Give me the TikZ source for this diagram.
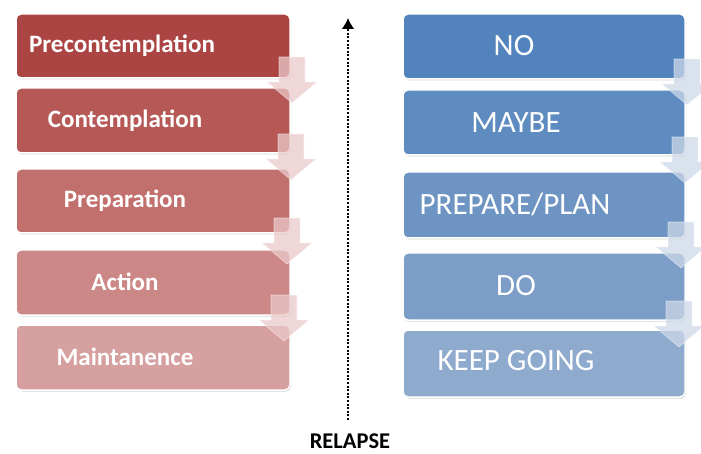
\documentclass[tikz,border=0pt]{standalone}
\usepackage{fontspec}
\setmainfont{Carlito}
\usetikzlibrary{arrows.meta,shadows}
\definecolor{rA}{HTML}{AB4543}
\definecolor{rB}{HTML}{B65956}
\definecolor{rC}{HTML}{C2706E}
\definecolor{rD}{HTML}{CB8886}
\definecolor{rE}{HTML}{D6A0A0}
\definecolor{bA}{HTML}{5283BD}
\definecolor{bB}{HTML}{5E8BC0}
\definecolor{bC}{HTML}{6D94C3}
\definecolor{bD}{HTML}{7B9DC7}
\definecolor{bE}{HTML}{8EAACD}
\definecolor{lpink}{HTML}{EBCACA}
\definecolor{lblue}{HTML}{CDD8E8}
\begin{document}
\begin{tikzpicture}[x=1pt,y=-1pt,
  stagebox/.style={draw=white,line width=1.5pt,rounded corners=5pt,
    drop shadow={shadow xshift=1pt,shadow yshift=-1.5pt,opacity=0.3,fill=black!55},
    minimum width=274pt,inner sep=0pt},
  rbox/.style={stagebox,minimum width=282pt},
  ltext/.style={text=white,font=\fontsize{25}{30}\selectfont\bfseries,inner sep=0pt},
  rtext/.style={text=white,font=\fontsize{31}{36}\selectfont,inner sep=0pt},
  arrowfill/.style={fill=#1,fill opacity=0.75,draw=white,draw opacity=0.5,line width=0.6pt},
  pics/downarr/.style={code={
    \path[arrowfill=#1] (-13,0) -- (13,0) -- (13,25) -- (25,25) -- (0,46)
      -- (-25,25) -- (-13,25) -- cycle;}}]
\useasboundingbox (0,0) rectangle (701,454);
% left column
\node[stagebox,fill=rA,minimum height=64pt] (l1) at (153,46) {};
\node[stagebox,fill=rB,minimum height=65pt] (l2) at (153,120.5) {};
\node[stagebox,fill=rC,minimum height=64pt] (l3) at (153,201) {};
\node[stagebox,fill=rD,minimum height=65pt] (l4) at (153,282.5) {};
\node[stagebox,fill=rE,minimum height=65pt] (l5) at (153,357.5) {};
\node[ltext] (tl1) at (122,46) {Precontemplation};
\node[ltext] (tl2) at (125,121) {Contemplation};
\node[ltext] (tl3) at (125,201) {Preparation};
\node[ltext] (tl4) at (125,282) {Action};
\node[ltext] (tl5) at (125,357) {Maintanence};
\pic at (292,57) {downarr=lpink};
\pic at (291,134) {downarr=lpink};
\pic at (287,218) {downarr=lpink};
\pic at (284,295) {downarr=lpink};
% right column
\node[rbox,fill=bA,minimum height=65pt] (r1) at (544,46.5) {};
\node[rbox,fill=bB,minimum height=65pt] (r2) at (544,122.5) {};
\node[rbox,fill=bC,minimum height=66pt] (r3) at (544,205) {};
\node[rbox,fill=bD,minimum height=67pt] (r4) at (544,286.5) {};
\node[rbox,fill=bE,minimum height=67pt] (r5) at (544,363.5) {};
\node[rtext] (tr1) at (514,46) {NO};
\node[rtext] (tr2) at (516,123) {MAYBE};
\node[rtext] (tr3) at (515,204) {PREPARE/PLAN};
\node[rtext] (tr4) at (516,286) {DO};
\node[rtext] (tr5) at (516,361) {KEEP GOING};
\pic at (687,59) {downarr=lblue};
\pic at (685,137) {downarr=lblue};
\pic at (681,222) {downarr=lblue};
\pic at (679,301) {downarr=lblue};
% relapse arrow
\coordinate (rb) at (348,420);
\coordinate (rt) at (348,18);
\draw[line width=2.6pt,dash pattern=on 2pt off 1.6pt,-{Latex[length=11pt,width=13pt]}] (rb) -- (rt);
\node[font=\fontsize{22.5}{26}\selectfont\bfseries,inner sep=0pt] (rel) at (350,441) {RELAPSE};
\end{tikzpicture}
\end{document}
